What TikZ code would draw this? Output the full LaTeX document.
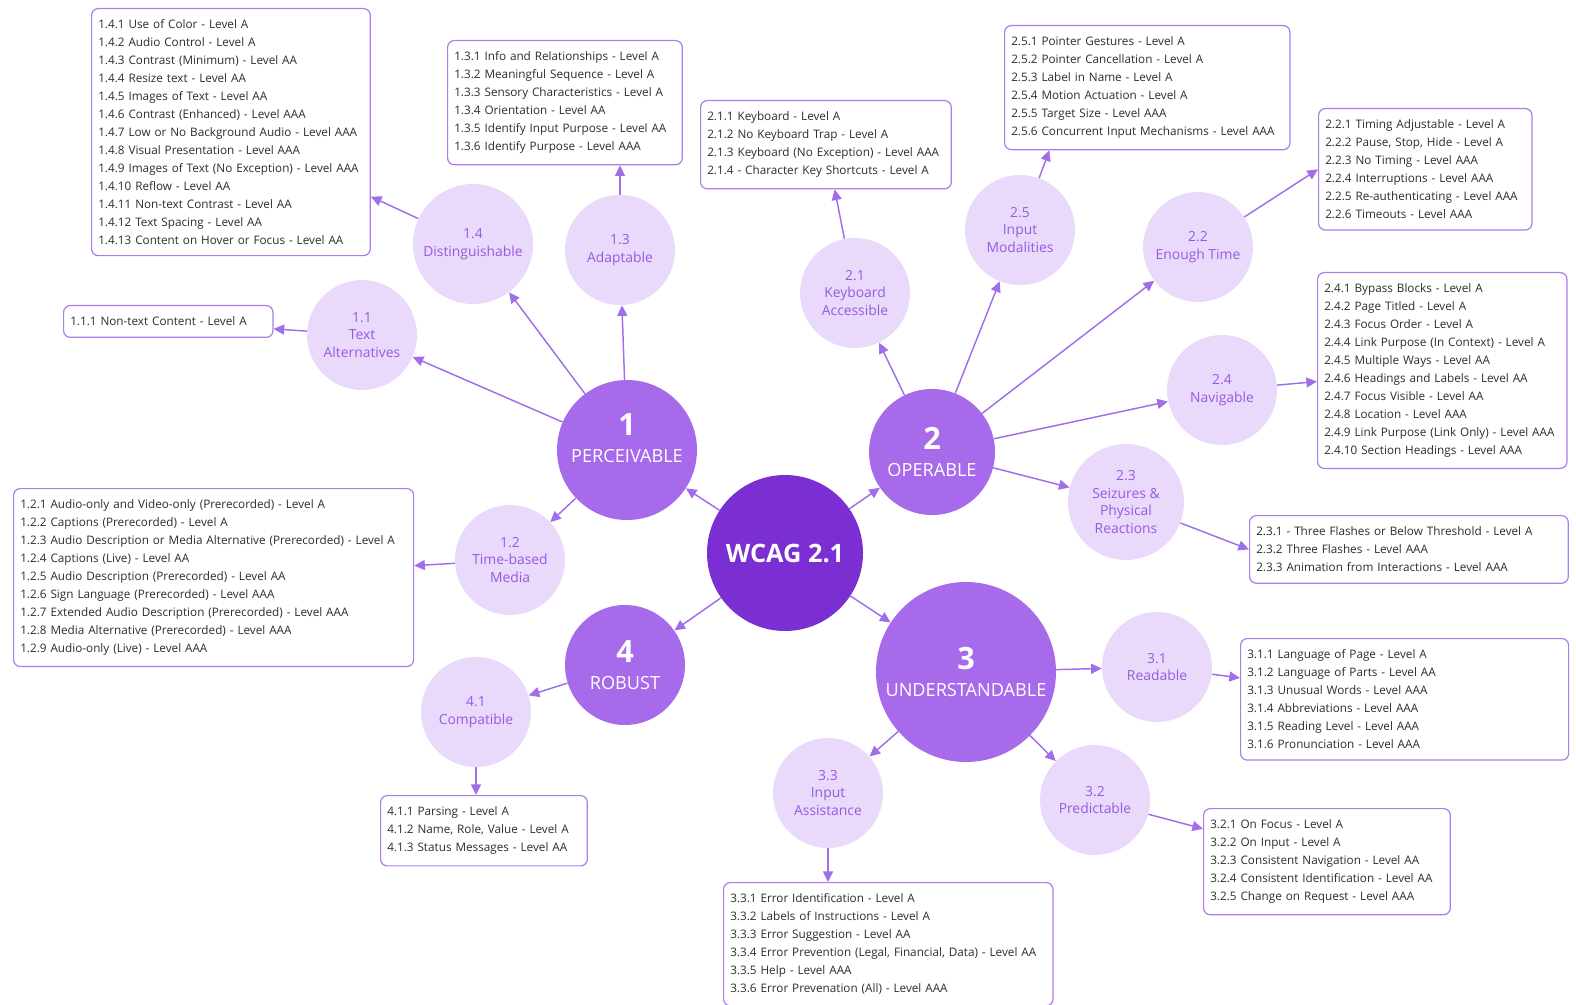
\documentclass[tikz,border=0pt]{standalone}
\usepackage{fontspec}
\setmainfont{Open Sans}
\usepackage{tikz}
\usetikzlibrary{arrows.meta}

\definecolor{corepurple}{RGB}{123,47,211}
\definecolor{midpurple}{RGB}{166,106,234}
\definecolor{lightpurple}{RGB}{233,218,251}
\definecolor{labelpurple}{RGB}{150,90,225}
\definecolor{arrowpurple}{RGB}{160,110,232}
\definecolor{boxline}{RGB}{172,125,234}
\definecolor{textgray}{RGB}{45,45,45}

\newcommand{\bignum}[1]{{\fontsize{23}{23}\selectfont\bfseries #1}}

\tikzset{
  core/.style={circle, fill=corepurple, text=white, inner sep=0pt, minimum size=117pt, font=\fontsize{19}{22}\selectfont\bfseries},
  principle/.style={circle, fill=midpurple, text=white, inner sep=0pt, align=center, font=\fontsize{13.6}{20}\selectfont},
  guideline/.style={circle, fill=lightpurple, text=labelpurple, inner sep=0pt, minimum size=82.5pt, align=center, font=\fontsize{10.4}{13.4}\selectfont},
  critbox/.style={draw=boxline, line width=0.9pt, rounded corners=5pt, fill=white, anchor=north west, align=left, inner xsep=5pt, inner ysep=8.5pt, text=textgray, font=\fontsize{8.8}{13.45}\selectfont},
  link/.style={draw=arrowpurple, line width=1.1pt, -{Triangle[length=8pt,width=7.5pt]}},
}

\begin{document}
\begin{tikzpicture}[x=0.75pt,y=0.75pt,yscale=-1,xscale=1]
\useasboundingbox (0,0) rectangle (1576,1005);

%Shape: Circle (centre)
\draw (785,553) node [core] (w) {WCAG 2.1};
%Shape: Circle (principles)
\draw (627,450) node [principle, minimum size=105pt, text depth=18pt] (p1) {\bignum{1}\\PERCEIVABLE};
\draw (932,452) node [principle, minimum size=94.5pt] (p2) {\bignum{2}\\OPERABLE};
\draw (966,672) node [principle, minimum size=135pt] (p3) {\bignum{3}\\UNDERSTANDABLE};
\draw (625,665) node [principle, minimum size=90pt] (p4) {\bignum{4}\\ROBUST};

%Shape: Circle (guidelines)
\draw (362,335) node [guideline] (c11) {1.1\\Text\\Alternatives};
\draw (473,244) node [guideline, minimum size=90pt] (c14) {1.4\\Distinguishable};
\draw (620,250) node [guideline] (c13) {1.3\\Adaptable};
\draw (510,560) node [guideline] (c12) {1.2\\Time-based\\Media};
\draw (855,293) node [guideline] (c21) {2.1\\Keyboard\\Accessible};
\draw (1020,230) node [guideline] (c25) {2.5\\Input\\Modalities};
\draw (1198,247) node [guideline] (c22) {2.2\\Enough Time};
\draw (1222,390) node [guideline] (c24) {2.4\\Navigable};
\draw (1126,502) node [guideline, minimum size=87pt] (c23) {2.3\\Seizures \&\\Physical\\Reactions};
\draw (1157,667) node [guideline] (c31) {3.1\\Readable};
\draw (1095,800) node [guideline] (c32) {3.2\\Predictable};
\draw (828,793) node [guideline] (c33) {3.3\\Input\\Assistance};
\draw (476,712) node [guideline] (c41) {4.1\\Compatible};

% Text Node
\draw (91,8) node [critbox, text width=199pt] (b14) {1.4.1 Use of Color - Level A\\
1.4.2 Audio Control - Level A\\
1.4.3 Contrast (Minimum) - Level AA\\
1.4.4 Resize text - Level AA\\
1.4.5 Images of Text - Level AA\\
1.4.6 Contrast (Enhanced) - Level AAA\\
1.4.7 Low or No Background Audio - Level AAA\\
1.4.8 Visual Presentation - Level AAA\\
1.4.9 Images of Text (No Exception) - Level AAA\\
1.4.10 Reflow - Level AA\\
1.4.11 Non-text Contrast - Level AA\\
1.4.12 Text Spacing - Level AA\\
1.4.13 Content on Hover or Focus - Level AA};
% Text Node
\draw (447,40) node [critbox, text width=166pt] (b13) {1.3.1 Info and Relationships - Level A\\
1.3.2 Meaningful Sequence - Level A\\
1.3.3 Sensory Characteristics - Level A\\
1.3.4 Orientation - Level AA\\
1.3.5 Identify Input Purpose - Level AA\\
1.3.6 Identify Purpose - Level AAA};
% Text Node
\draw (700,100) node [critbox, text width=178pt] (b21) {2.1.1 Keyboard - Level A\\
2.1.2 No Keyboard Trap - Level A\\
2.1.3 Keyboard (No Exception) - Level AAA\\
2.1.4 - Character Key Shortcuts - Level A};
% Text Node
\draw (1004,25) node [critbox, text width=204pt] (b25) {2.5.1 Pointer Gestures - Level A\\
2.5.2 Pointer Cancellation - Level A\\
2.5.3 Label in Name - Level A\\
2.5.4 Motion Actuation - Level A\\
2.5.5 Target Size - Level AAA\\
2.5.6 Concurrent Input Mechanisms - Level AAA};
% Text Node
\draw (1318,108) node [critbox, text width=150pt] (b22) {2.2.1 Timing Adjustable - Level A\\
2.2.2 Pause, Stop, Hide - Level A\\
2.2.3 No Timing - Level AAA\\
2.2.4 Interruptions - Level AAA\\
2.2.5 Re-authenticating - Level AAA\\
2.2.6 Timeouts - Level AAA};
% Text Node
\draw (1317,272) node [critbox, text width=177pt] (b24) {2.4.1 Bypass Blocks - Level A\\
2.4.2 Page Titled - Level A\\
2.4.3 Focus Order - Level A\\
2.4.4 Link Purpose (In Context) - Level A\\
2.4.5 Multiple Ways - Level AA\\
2.4.6 Headings and Labels - Level AA\\
2.4.7 Focus Visible - Level AA\\
2.4.8 Location - Level AAA\\
2.4.9 Link Purpose (Link Only) - Level AAA\\
2.4.10 Section Headings - Level AAA};
% Text Node
\draw (63,305) node [critbox, text width=147pt] (b11) {1.1.1 Non-text Content - Level A};
% Text Node
\draw (13,488) node [critbox, text width=290pt] (b12) {1.2.1 Audio-only and Video-only (Prerecorded) - Level A\\
1.2.2 Captions (Prerecorded) - Level A\\
1.2.3 Audio Description or Media Alternative (Prerecorded) - Level A\\
1.2.4 Captions (Live) - Level AA\\
1.2.5 Audio Description (Prerecorded) - Level AA\\
1.2.6 Sign Language (Prerecorded) - Level AAA\\
1.2.7 Extended Audio Description (Prerecorded) - Level AAA\\
1.2.8 Media Alternative (Prerecorded) - Level AAA\\
1.2.9 Audio-only (Live) - Level AAA};
% Text Node
\draw (1249,515) node [critbox, text width=229pt] (b23) {2.3.1 - Three Flashes or Below Threshold - Level A\\
2.3.2 Three Flashes - Level AAA\\
2.3.3 Animation from Interactions - Level AAA};
% Text Node
\draw (1240,638) node [critbox, text width=236pt] (b31) {3.1.1 Language of Page - Level A\\
3.1.2 Language of Parts - Level AA\\
3.1.3 Unusual Words - Level AAA\\
3.1.4 Abbreviations - Level AAA\\
3.1.5 Reading Level - Level AAA\\
3.1.6 Pronunciation - Level AAA};
% Text Node
\draw (380,795) node [critbox, text width=145pt] (b41) {4.1.1 Parsing - Level A\\
4.1.2 Name, Role, Value - Level A\\
4.1.3 Status Messages - Level AA};
% Text Node
\draw (1203,808) node [critbox, text width=175pt] (b32) {3.2.1 On Focus - Level A\\
3.2.2 On Input - Level A\\
3.2.3 Consistent Navigation - Level AA\\
3.2.4 Consistent Identification - Level AA\\
3.2.5 Change on Request - Level AAA};
% Text Node
\draw (723,882) node [critbox, text width=237pt] (b33) {3.3.1 Error Identification - Level A\\
3.3.2 Labels of Instructions - Level A\\
3.3.3 Error Suggestion - Level AA\\
3.3.4 Error Prevention (Legal, Financial, Data) - Level AA\\
3.3.5 Help - Level AAA\\
3.3.6 Error Prevenation (All) - Level AAA};

%Straight Lines (centre to principles)
\draw [link] (w) -- (p1);
\draw [link] (w) -- (p2);
\draw [link] (w) -- (p3);
\draw [link] (w) -- (p4);
%Straight Lines (principles to guidelines)
\draw [link] (p1) -- (c11);
\draw [link] (p1) -- (c14);
\draw [link] (p1) -- (c13);
\draw [link] (p1) -- (c12);
\draw [link] (p2) -- (c21);
\draw [link] (p2) -- (c25);
\draw [link] (p2) -- (c22);
\draw [link] (p2) -- (c24);
\draw [link] (p2) -- (c23);
\draw [link] (p3) -- (c31);
\draw [link] (p3) -- (c32);
\draw [link] (p3) -- (c33);
\draw [link] (p4) -- (c41);
%Straight Lines (guidelines to criteria)
\draw [link] (c11) -- (b11);
\draw [link] (c14) -- (b14);
\draw [link] (c13) -- (c13 |- b13.south);
\draw [link] (c12) -- (b12);
\draw [link] (c21) -- (b21);
\draw [link] (c25) -- ([xshift=34pt]b25.south west);
\draw [link] (c22) -- (b22.west);
\draw [link] (c24) -- (b24);
\draw [link] (c23) -- (b23.west);
\draw [link] (c31) -- (b31);
\draw [link] (c32) -- (b32);
\draw [link] (c33) -- (c33 |- b33.north);
\draw [link] (c41) -- (c41 |- b41.north);

\end{tikzpicture}
\end{document}
